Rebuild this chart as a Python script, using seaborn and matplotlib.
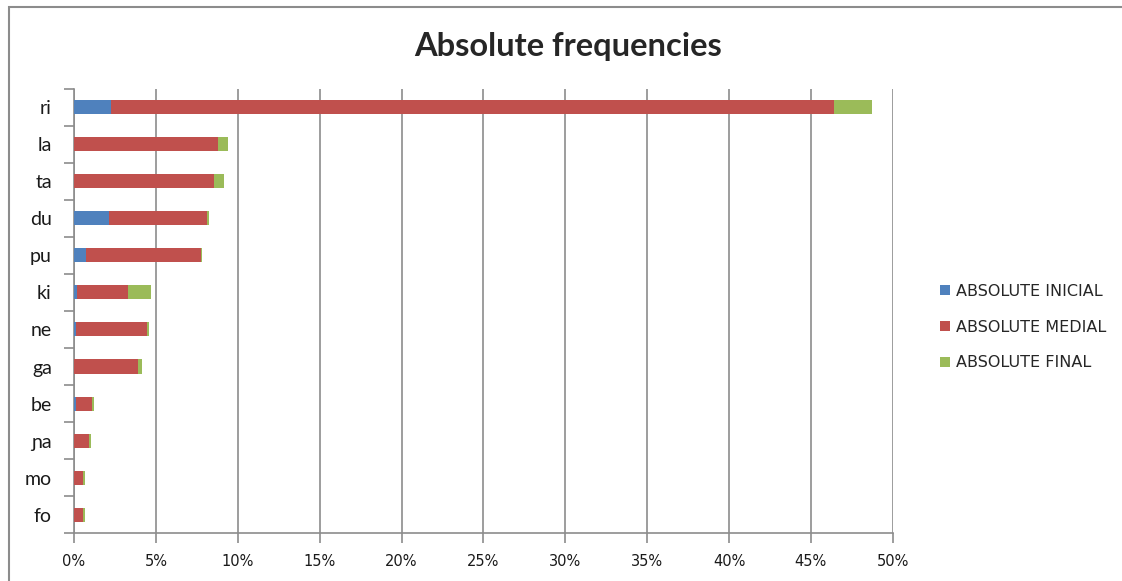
import matplotlib
matplotlib.use("Agg")
import matplotlib.pyplot as plt
from matplotlib.patches import Rectangle, Patch
from matplotlib.ticker import FixedLocator, PercentFormatter
from matplotlib.font_manager import FontProperties
import numpy as np
import pandas as pd
import seaborn as sns

# Syllable frequencies (% of all occurrences) by word position
syllables = ["ri", "la", "ta", "du", "pu", "ki", "ne", "ga", "be", "ɲa", "mo", "fo"]
inicial = [2.26, 0.0, 0.0, 2.11, 0.73, 0.18, 0.12, 0.0, 0.12, 0.0, 0.0, 0.0]
medial = [44.17, 8.78, 8.53, 5.98, 7.01, 3.10, 4.34, 3.91, 1.0, 0.94, 0.57, 0.57]
final = [2.29, 0.65, 0.61, 0.16, 0.08, 1.43, 0.10, 0.26, 0.08, 0.07, 0.08, 0.08]

series_names = ["ABSOLUTE INICIAL", "ABSOLUTE MEDIAL", "ABSOLUTE FINAL"]
series_colors = ["#4F81BD", "#C0504D", "#9BBB59"]
x_ticks = [0, 5, 10, 15, 20, 25, 30, 35, 40, 45, 50]

sns.set_theme(style="white")
plt.rcParams["font.family"] = ["DejaVu Sans"]

df = pd.DataFrame({"syllable": syllables, "inicial": inicial,
                   "medial": medial, "final": final})
df["to_inicial"] = df["inicial"]
df["to_medial"] = df["inicial"] + df["medial"]
df["to_final"] = df["to_medial"] + df["final"]

fig = plt.figure(figsize=(11.22, 5.81), dpi=100)
ax = fig.add_axes([0.0660, 0.0821, 0.7297, 0.7655])

# Stacked bars: draw cumulative totals from the longest down
for col, color in zip(["to_final", "to_medial", "to_inicial"],
                      [series_colors[2], series_colors[1], series_colors[0]]):
    sns.barplot(data=df, x=col, y="syllable", orient="h", color=color,
                width=0.38, saturation=1, ax=ax, linewidth=0, zorder=3)

ax.set_xlim(0, 50)
ax.set_ylim(11.5, -0.5)
ax.set_xlabel("")
ax.set_ylabel("")

ax.xaxis.set_major_locator(FixedLocator(x_ticks))
ax.xaxis.set_major_formatter(PercentFormatter(decimals=0))
ax.grid(axis="x", color="#8c8c8c", linewidth=1.2, zorder=0)
ax.grid(axis="y", visible=False)

for side in ["top", "right"]:
    ax.spines[side].set_visible(False)
for side in ["left", "bottom"]:
    ax.spines[side].set_color("#8c8c8c")
    ax.spines[side].set_linewidth(1.2)

ax.tick_params(axis="x", which="major", bottom=True, length=7, width=1.2,
               color="#8c8c8c", pad=8, labelsize=10.5, labelcolor="#1a1a1a")
ax.tick_params(axis="y", which="major", left=False, length=0, pad=16,
               labelsize=14, labelcolor="#1a1a1a")
ax.yaxis.set_minor_locator(FixedLocator(np.arange(-0.5, len(syllables), 1.0)))
ax.tick_params(axis="y", which="minor", left=True, length=7, width=1.2,
               color="#8c8c8c")
for lbl in ax.get_yticklabels():
    lbl.set_fontfamily(["Lato", "DejaVu Sans"])

# Chart title
fig.text(0.506, 0.920, "Absolute frequencies", ha="center", va="center",
         fontsize=23.5, fontweight="bold", family=["Lato", "DejaVu Sans"])

# Legend
handles = [Patch(facecolor=c, edgecolor="none") for c in series_colors]
fig.legend(handles, series_names, loc="center left",
           bbox_to_anchor=(0.8325, 0.437), frameon=False,
           prop=FontProperties(family="DejaVu Sans", size=11.5),
           handlelength=0.6, handleheight=0.6, handletextpad=0.35,
           labelspacing=1.3, borderaxespad=0)

# Chart area border
fig.patches.append(Rectangle((9 / 1122, -0.05), 1.2, 1.0 - 7 / 581 + 0.05,
                             transform=fig.transFigure, fill=False,
                             edgecolor="#8c8c8c", linewidth=1.5))

fig.savefig("out.png", dpi=100)
